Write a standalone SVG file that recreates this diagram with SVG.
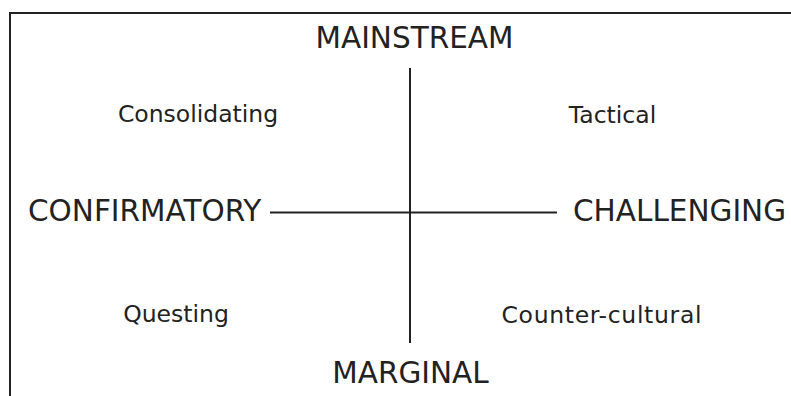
<svg xmlns="http://www.w3.org/2000/svg" width="791" height="396" viewBox="0 0 791 396">
<style>
.big{font-family:"DejaVu Sans",Verdana,sans-serif;font-size:29.5px;fill:#222}
.small{font-family:"DejaVu Sans",Verdana,sans-serif;font-size:23.5px;fill:#222}
.ln{stroke:#222;stroke-width:2;fill:none}
</style>
<rect width="791" height="396" fill="#fff"/>
<g id="frame"><path class="ln" d="M10,396 V13 H791"/></g>
<g id="connectors">
<line class="ln" x1="410" y1="68" x2="410" y2="343"/>
<line class="ln" x1="270" y1="212.5" x2="557" y2="212.5"/>
</g>
<g id="mainstream"><text class="big" x="414.5" y="48" text-anchor="middle">MAINSTREAM</text></g>
<g id="marginal"><text class="big" x="410.5" y="383" text-anchor="middle">MARGINAL</text></g>
<g id="confirmatory"><text class="big" x="28" y="221">CONFIRMATORY</text></g>
<g id="challenging"><text class="big" x="573" y="221">CHALLENGING</text></g>
<g id="consolidating"><text class="small" x="198" y="122" text-anchor="middle">Consolidating</text></g>
<g id="tactical"><text class="small" x="612.5" y="123" text-anchor="middle">Tactical</text></g>
<g id="questing"><text class="small" x="176" y="321.5" text-anchor="middle">Questing</text></g>
<g id="counter-cultural"><text class="small" x="601.5" y="323" text-anchor="middle" textLength="200">Counter-cultural</text></g>
</svg>
